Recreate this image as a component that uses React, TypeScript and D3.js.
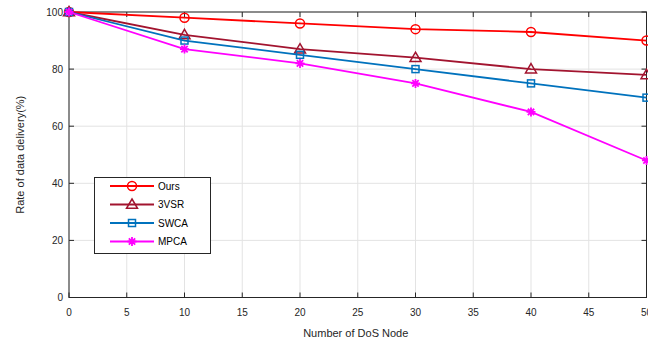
import React, { useEffect, useRef } from 'react';
import * as d3 from 'd3';

const nodes = [0, 10, 20, 30, 40, 50];
const ours = [100, 98, 96, 94, 93, 90];
const vsr = [100, 92, 87, 84, 80, 78];
const swca = [100, 90, 85, 80, 75, 70];
const mpca = [100, 87, 82, 75, 65, 48];
const xTicks = [0, 5, 10, 15, 20, 25, 30, 35, 40, 45, 50];
const yTicks = [0, 20, 40, 60, 80, 100];

const series = [
  { name: 'Ours', values: ours, color: '#ff0000', marker: 'circle' },
  { name: '3VSR', values: vsr, color: '#a2142f', marker: 'triangle' },
  { name: 'SWCA', values: swca, color: '#0072bd', marker: 'square' },
  { name: 'MPCA', values: mpca, color: '#ff00ff', marker: 'star' },
];

const W = 648;
const H = 343;

const App: React.FC = () => {
  const svgRef = useRef<SVGSVGElement | null>(null);

  useEffect(() => {
    const svg = d3.select(svgRef.current);
    svg.selectAll('*').remove();
    const left = 69, right = 646.5, top = 12, bottom = 297.5;
    const x = d3.scaleLinear().domain([0, 50]).range([left, right]);
    const y = d3.scaleLinear().domain([0, 100]).range([bottom, top]);
    const font = 'Liberation Sans, Arial, sans-serif';

    svg.append('rect').attr('width', W).attr('height', H).attr('fill', '#fff');

    // grid
    const grid = svg.append('g').attr('stroke', '#e3e3e3').attr('stroke-width', 1);
    xTicks.forEach(t => grid.append('line').attr('x1', x(t)).attr('x2', x(t)).attr('y1', top).attr('y2', bottom));
    yTicks.forEach(t => grid.append('line').attr('x1', left).attr('x2', right).attr('y1', y(t)).attr('y2', y(t)));

    // box
    svg.append('rect').attr('x', left).attr('y', top).attr('width', right - left).attr('height', bottom - top)
      .attr('fill', 'none').attr('stroke', '#262626').attr('stroke-width', 1);

    // ticks
    const tk = svg.append('g').attr('stroke', '#262626').attr('stroke-width', 1);
    xTicks.forEach(t => {
      tk.append('line').attr('x1', x(t)).attr('x2', x(t)).attr('y1', bottom).attr('y2', bottom - 5);
      tk.append('line').attr('x1', x(t)).attr('x2', x(t)).attr('y1', top).attr('y2', top + 5);
    });
    yTicks.forEach(t => {
      tk.append('line').attr('x1', left).attr('x2', left + 5).attr('y1', y(t)).attr('y2', y(t));
      tk.append('line').attr('x1', right).attr('x2', right - 5).attr('y1', y(t)).attr('y2', y(t));
    });

    svg.append('g').selectAll('text').data(xTicks).join('text')
      .attr('x', d => x(d)).attr('y', bottom + 18).attr('text-anchor', 'middle')
      .attr('font-family', font).attr('font-size', 10).attr('fill', '#262626').text(d => d);
    svg.append('g').selectAll('text').data(yTicks).join('text')
      .attr('x', left - 6).attr('y', d => y(d) + 3.5).attr('text-anchor', 'end')
      .attr('font-family', font).attr('font-size', 10).attr('fill', '#262626').text(d => d);

    svg.append('text').attr('x', (left + right) / 2 - 2).attr('y', 337).attr('text-anchor', 'middle')
      .attr('font-family', font).attr('font-size', 11).attr('fill', '#262626').text('Number of DoS Node');
    svg.append('text').attr('transform', `translate(24,${(top + bottom) / 2}) rotate(-90)`).attr('text-anchor', 'middle')
      .attr('font-family', font).attr('font-size', 11).attr('fill', '#262626').text('Rate of data delivery(%)');

    const drawMarker = (g: any, kind: string, cx: number, cy: number, color: string) => {
      if (kind === 'circle') {
        g.append('circle').attr('cx', cx).attr('cy', cy).attr('r', 4.5).attr('fill', 'none').attr('stroke', color).attr('stroke-width', 1.5);
      } else if (kind === 'triangle') {
        const s = 5.5;
        g.append('path').attr('d', `M${cx},${cy - s}L${cx + s},${cy + s * 0.7}L${cx - s},${cy + s * 0.7}Z`)
          .attr('fill', 'none').attr('stroke', color).attr('stroke-width', 1.5);
      } else if (kind === 'square') {
        g.append('rect').attr('x', cx - 3.5).attr('y', cy - 3.5).attr('width', 7).attr('height', 7)
          .attr('fill', 'none').attr('stroke', color).attr('stroke-width', 1.5);
      } else {
        const r = 4.5;
        const p = [0, 45, 90, 135].map(a => {
          const rad = (a * Math.PI) / 180;
          return `M${cx - r * Math.cos(rad)},${cy - r * Math.sin(rad)}L${cx + r * Math.cos(rad)},${cy + r * Math.sin(rad)}`;
        }).join('');
        g.append('path').attr('d', p).attr('stroke', color).attr('stroke-width', 1.8);
      }
    };

    const line = d3.line<number>().x((_, i) => x(nodes[i])).y(d => y(d));
    series.forEach(s => {
      const g = svg.append('g');
      g.append('path').attr('d', line(s.values)).attr('fill', 'none').attr('stroke', s.color).attr('stroke-width', 1.8);
      s.values.forEach((v, i) => drawMarker(g, s.marker, x(nodes[i]), y(v), s.color));
    });

    // legend
    const lg = svg.append('g');
    lg.append('rect').attr('x', 94.5).attr('y', 177.5).attr('width', 116).attr('height', 76)
      .attr('fill', '#fff').attr('stroke', '#262626').attr('stroke-width', 1);
    series.forEach((s, i) => {
      const ly = 186 + i * 18.5;
      lg.append('line').attr('x1', 110).attr('x2', 154).attr('y1', ly).attr('y2', ly).attr('stroke', s.color).attr('stroke-width', 1.8);
      drawMarker(lg, s.marker, 132, ly, s.color);
      lg.append('text').attr('x', 158).attr('y', ly + 3.5).attr('font-family', font).attr('font-size', 10)
        .attr('fill', '#000').text(s.name);
    });
  }, []);

  return <svg ref={svgRef} width={W} height={H} style={{ position: 'absolute', left: 0, top: 0 }} />;
};

export default App;
